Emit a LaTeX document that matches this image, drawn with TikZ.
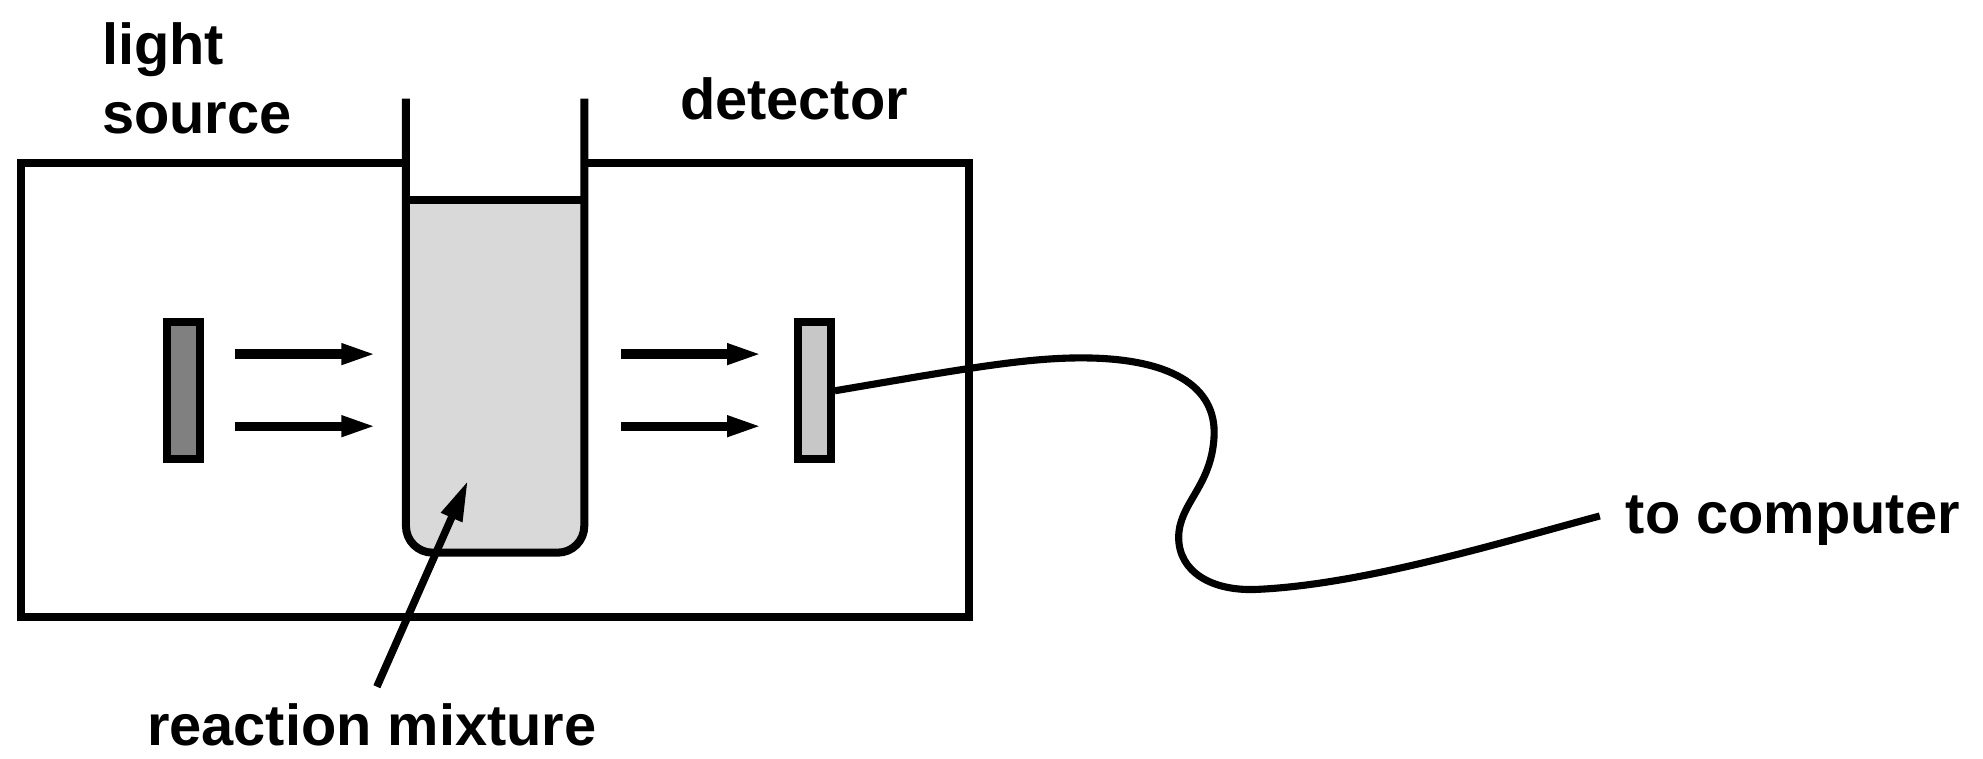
\documentclass[tikz,border=0pt]{standalone}
\usepackage{fontspec}
\setmainfont{Liberation Sans}
\usetikzlibrary{arrows.meta}

\begin{document}
\begin{tikzpicture}[x=0.1mm, y=-0.1mm, >={Triangle[length=2.8mm, width=1.5mm]},
		font=\fontsize{13}{15.6}\selectfont\bfseries]
		\tikzstyle{wall} = [line width=1.8pt]
		\tikzstyle{lamp} = [draw, line width=1.8pt, minimum width=2.6mm, minimum height=10.8mm, inner sep=0pt]
		\tikzstyle{beam} = [->, line width=2.1pt]
		\tikzstyle{txt} = [inner sep=0pt, align=left]

		\useasboundingbox (0,0) rectangle (1568,600);

		% housing
		\draw[wall] (321,129) -- (17,129) -- (17,488) -- (766,488) -- (766,129) -- (462,129);

		% cuvette with the mixture
		\fill[black!15] (321,158) [rounded corners=2.1mm] -- (321,437) -- (462,437) [sharp corners] -- (462,158);
		\draw[wall] (321,78) [rounded corners=2.1mm] -- (321,437) -- (462,437) [sharp corners] -- (462,78);
		\draw[wall] (321,158) -- (462,158);

		\path
		node[lamp, fill=black!50] (src) at (145,309) {}
		node[lamp, fill=black!22] (det) at (644,309) {}
		node[txt, anchor=west] (srclbl) at (80,62) {light\\source}
		node[txt, anchor=west] (detlbl) at (537,78) {detector}
		node[txt] (mix) at (294,573) {reaction mixture}
		node[txt, anchor=base west] (pc) at (1285,422) {to computer}
		coordinate (mixtail) at (298,543)
		coordinate (mixtip) at (370,380)
		coordinate (plug) at (1265,408)
		;

		% beams
		\foreach \y/\n in {280/a, 337/b} {
			\coordinate (in\n) at (186,\y);
			\coordinate (cu\n) at (298,\y);
			\coordinate (out\n) at (491,\y);
			\coordinate (hit\n) at (603,\y);
			\draw[beam] (in\n) -- (cu\n);
			\draw[beam] (out\n) -- (hit\n);
		}

		\draw[line width=1.7pt, -{Triangle[length=3.2mm, width=1.7mm]}] (mixtail) -- (mixtip);

		% cable
		\draw[line width=1.6pt] (det.east) .. controls (760,292) and (810,283) .. (855,283)
			.. controls (925,283) and (962,305) .. (960,345)
			.. controls (958,385) and (932,398) .. (932,425)
			.. controls (932,452) and (958,468) .. (995,466)
			.. controls (1080,462) and (1190,428) .. (plug);

		\end{tikzpicture}
\end{document}
